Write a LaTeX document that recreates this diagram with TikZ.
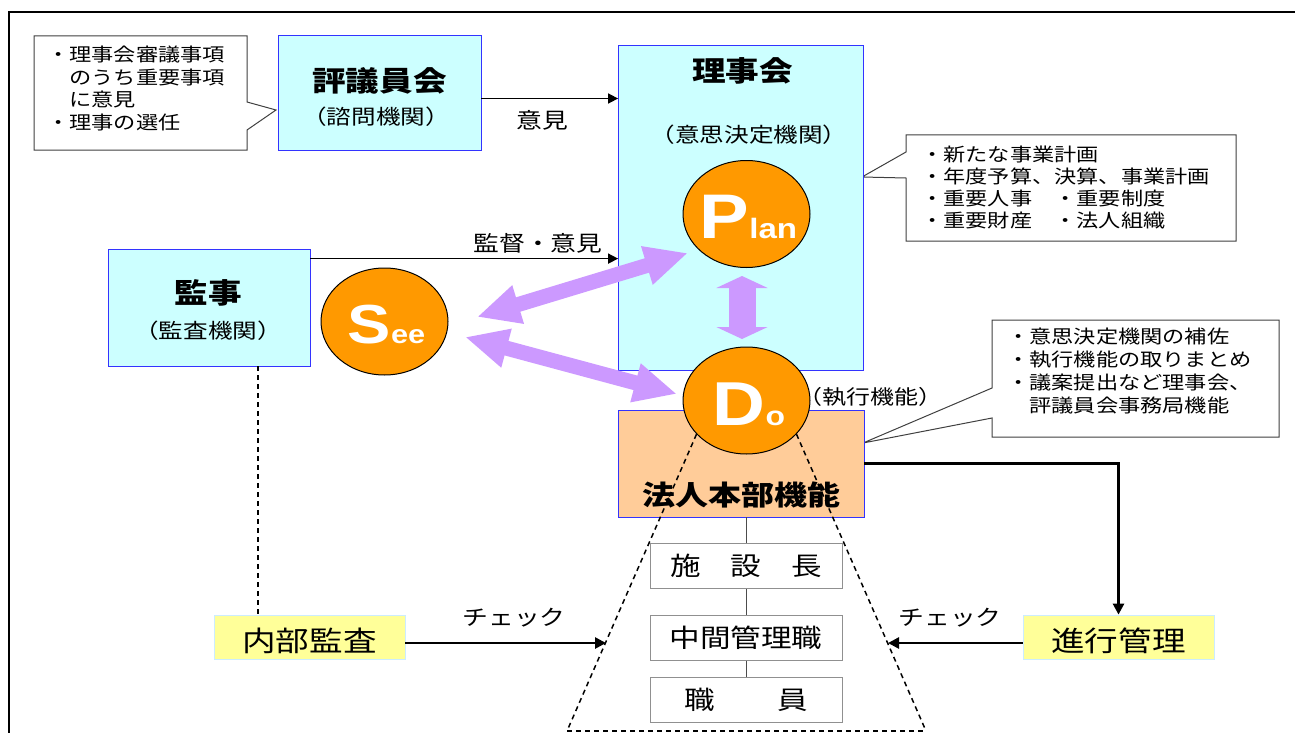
\documentclass[tikz,border=0pt]{standalone}
\usepackage{fontspec}
\setmainfont{Noto Sans CJK JP}[FakeStretch=1.2]
\newfontfamily\latinbold{Liberation Sans Bold}[FakeStretch=1.18]
\usetikzlibrary{arrows.meta,shapes.geometric}
\definecolor{cyanfill}{HTML}{CCFFFF}
\definecolor{boxblue}{HTML}{3333FF}
\definecolor{orangeC}{HTML}{FF9900}
\definecolor{peach}{HTML}{FFCC99}
\definecolor{yel}{HTML}{FFFF99}
\definecolor{ltcyan}{HTML}{CCECFF}
\definecolor{lav}{HTML}{CC99FF}
\definecolor{cgray}{HTML}{404040}
\definecolor{bgray}{HTML}{909090}
\newcommand{\fsz}[2]{\fontsize{#1}{#2}\selectfont}
\begin{document}
\begin{tikzpicture}[x=1pt,y=-1pt,
  cyanbox/.style={draw=boxblue,line width=0.8pt,fill=cyanfill,inner sep=0pt},
  peachbox/.style={draw=boxblue,line width=0.8pt,fill=peach,inner sep=0pt},
  yelbox/.style={draw=ltcyan,line width=0.8pt,fill=yel,inner sep=0pt,minimum width=191pt,minimum height=44pt},
  yeltext/.style={inner sep=0pt,font=\fsz{28}{28}},
  whitebox/.style={draw=bgray,line width=1pt,fill=white,inner sep=0pt,font=\fsz{25.5}{25.5},minimum width=192pt,minimum height=45pt},
  callout/.style={draw=cgray,line width=1pt,fill=white},
  ctext/.style={align=left,inner sep=0pt,anchor=north west},
  titletext/.style={inner sep=0pt,font=\bfseries\fsz{28}{28}},
  paren/.style={inner sep=0pt,font=\fsz{20.5}{20.5}},
  lbl/.style={inner sep=0pt,font=\fsz{21.5}{21.5}},
  circ/.style={ellipse,draw=black,line width=1pt,fill=orangeC,inner sep=0pt,minimum width=127pt,minimum height=107pt},
  pdo/.style={inner sep=0pt,text=white,font=\latinbold,anchor=base},
  blackarrow/.style={line width=1.6pt,-{Triangle[length=10pt,width=10pt]}},
  thickarrow/.style={line width=2.6pt,-{Triangle[length=11pt,width=11pt]}},
  purplearrow/.style={draw=lav,line width=15pt,{Triangle[length=43pt,width=37pt]}-{Triangle[length=43pt,width=37pt]}},
  vpurplearrow/.style={draw=lav,line width=27pt,{Triangle[length=12pt,width=51pt]}-{Triangle[length=12pt,width=51pt]}},
  dashline/.style={dash pattern=on 5pt off 4pt,line width=1.5pt}
]
\useasboundingbox (0,0) rectangle (1295,733);
\clip (0,0) rectangle (1295,733);
% outer frame
\draw[line width=2pt] (9,750) -- (9,12) -- (1320,12);

% callouts
\draw[callout] (34,36) -- (247,36) -- (247,102) -- (276,110) -- (247,130) -- (247,150) -- (34,150) -- cycle;
\node[ctext,font=\fsz{18.5}{22.5}] (c1t) at (47,46) {・理事会審議事項\\　のうち重要事項\\　に意見\\・理事の選任};
\draw[callout] (906,135) -- (1236,135) -- (1236,241) -- (906,241) -- (906,178) -- (862,177) -- (906,152) -- cycle;
\node[ctext,font=\fsz{18.5}{22}] (c2t) at (921,145.5) {・新たな事業計画\\・年度予算、決算、事業計画\\・重要人事　・重要制度\\・重要財産　・法人組織};
\draw[callout] (992,320) -- (1279,320) -- (1279,437) -- (992,437) -- (992,418) -- (863,443) -- (992,388) -- cycle;
\node[ctext,font=\fsz{18.5}{23}] (c3t) at (1007,327.5) {・意思決定機関の補佐\\・執行機能の取りまとめ\\・議案提出など理事会、\\　評議員会事務局機能};

% boxes
\node[cyanbox,minimum width=203pt,minimum height=115pt] (hyo) at (379.5,92.5) {};
\node[titletext] (hyoT) at (379.5,81) {評議員会};
\node[paren] (hyoP) at (376,117) {（諮問機関）};

\node[cyanbox,minimum width=245pt,minimum height=325pt] (riji) at (741,207.5) {};
\node[titletext] (rijiT) at (742.5,70.5) {理事会};
\node[paren] (rijiP) at (749,135) {（意思決定機関）};

\node[cyanbox,minimum width=202pt,minimum height=117pt] (kanji) at (209,307.5) {};
\node[titletext] (kanjiT) at (208,292.5) {監事};
\node[paren] (kanjiP) at (208,331) {（監査機関）};

\node[peachbox,minimum width=246pt,minimum height=107pt] (honbu) at (741,463.5) {};
\node[titletext,font=\bfseries\fsz{27.5}{27.5}] (honbuT) at (741,495) {法人本部機能};

\node[yelbox] (naibu) at (309.5,637) {};
\node[yeltext] (naibuT) at (309.5,641) {内部監査};
\node[yelbox] (shinko) at (1118.5,637) {};
\node[yeltext] (shinkoT) at (1118.5,641) {進行管理};

\node[whitebox] (shisetsu) at (746,566) {施\hspace{30pt}設\hspace{30pt}長};
\node[whitebox] (chukan) at (746,637.5) {中間管理職};
\node[whitebox] (shokuin) at (746,700) {職\hspace{62pt}員};

% org lines
\draw[line width=0.8pt,black!70] (honbu.south -| shisetsu.north) -- (shisetsu.north);
\draw[line width=0.8pt,black!70] (shisetsu.south) -- (chukan.north);
\draw[line width=0.8pt,black!70] (chukan.south) -- (shokuin.north);

% black connectors
\draw[blackarrow] ([yshift=-6pt]hyo.east) -- ([yshift=-6pt]hyo.east -| riji.west);
\node[lbl] (ikenL) at (542,120) {意見};
\draw[blackarrow] ([yshift=-10pt]kanji.north east) -- ([yshift=-10pt]kanji.north east -| riji.west);
\node[lbl] (kantokuL) at (538,243) {監督・意見};
\draw[thickarrow] (honbu.east) -| (shinko.north);
\coordinate (dk) at (258,0);
\draw[dashline] (kanji.south -| dk) -- (naibu.north -| dk);

% purple arrows
\coordinate (pa1) at (477,317);
\coordinate (pa2) at (688,253);
\coordinate (pb1) at (465,337);
\coordinate (pb2) at (677,394);
\coordinate (pc1) at (742,276);
\coordinate (pc2) at (742,339);
\draw[purplearrow] (pa1) -- (pa2);
\draw[purplearrow] (pb1) -- (pb2);
\draw[vpurplearrow] (pc1) -- (pc2);

% trapezoid corners and check-arrow ends
\coordinate (tl2) at (567,731);
\coordinate (tr2) at (926,731);
\coordinate (ck1) at (606,643);
\coordinate (ck2) at (888,643);

% PDCA ellipses
\node[circ] (plan) at (746.5,214) {};
\node[circ] (see) at (384.5,321.5) {};
\node[circ] (do) at (746.5,400.5) {};
\draw[dashline] (do.214) -- (tl2);
\draw[dashline] (do.326) -- (tr2);
\draw[dashline,line width=2.5pt] (tl2) -- (tr2);
\node[pdo] (planT) at (748.5,238) {{\fsz{63}{63}P}{\fsz{28}{28}lan}};
\node[pdo] (seeT) at (386.5,343) {{\fsz{55}{55}S}{\fsz{26}{26}ee}};
\node[pdo] (doT) at (749,425) {{\fsz{62}{62}D}{\fsz{27}{27}o}};
\node[paren,font=\fsz{20}{20}] (doL) at (870,397) {（執行機能）};

% check arrows
\draw[thickarrow] ([yshift=-6pt]naibu.east) -- (ck1);
\node[lbl] (chk1) at (514,618) {チェック};
\draw[thickarrow] ([yshift=-6pt]shinko.west) -- (ck2);
\node[lbl] (chk2) at (950,618) {チェック};
\end{tikzpicture}
\end{document}
